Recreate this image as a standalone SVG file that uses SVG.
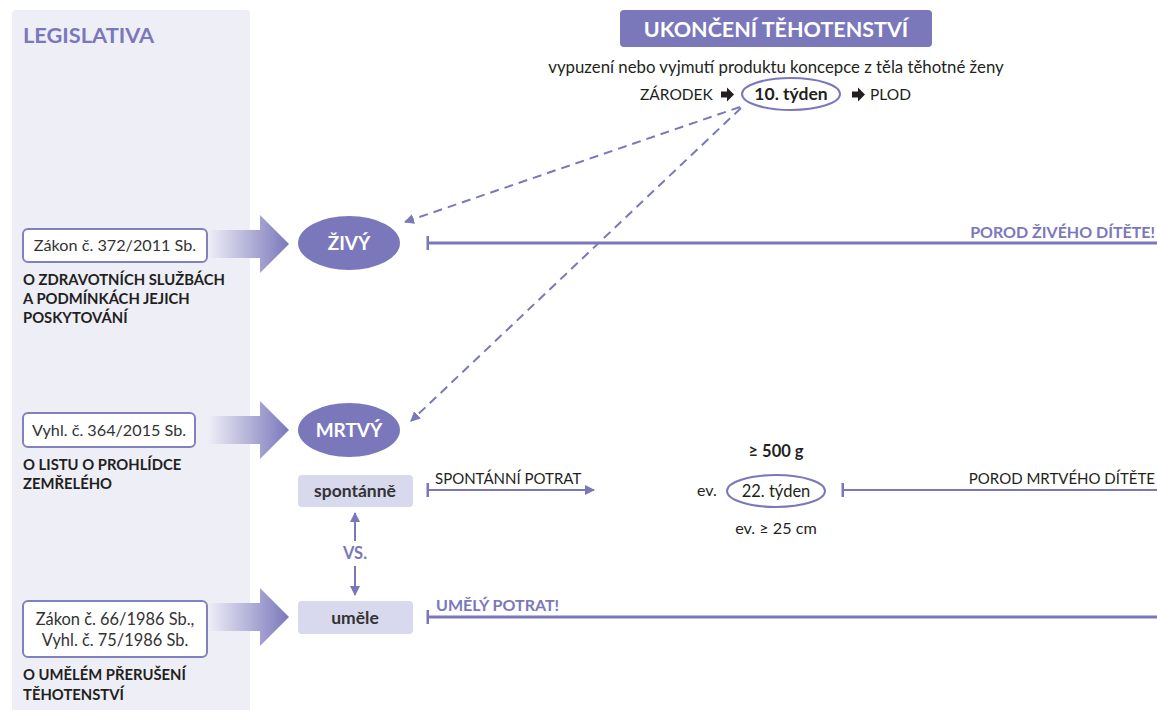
<svg xmlns="http://www.w3.org/2000/svg" width="1157" height="710" viewBox="0 0 1157 710">
<defs>
<style>
.t{font-family:Lato,"Open Sans","Liberation Sans",sans-serif;}
.b{font-weight:bold;}
.dk{fill:#231f20;}
.pu{fill:#7a78bb;}
.wh{fill:#ffffff;}
.law{fill:#ffffff;stroke:#8180c0;stroke-width:2;}
.node{fill:#7a78bb;}
.mode{fill:#d9d9ee;}
.ln{stroke:#7a78bb;stroke-width:3;fill:none;}
.thin{stroke:#7a78bb;stroke-width:2;fill:none;}
.dash{stroke:#7a78bb;stroke-width:2;fill:none;stroke-dasharray:9 6;}
</style>
<linearGradient id="g1" gradientUnits="objectBoundingBox" x1="0" y1="0" x2="1" y2="0">
<stop offset="0" stop-color="#eeeef7"/>
<stop offset="1" stop-color="#7a78bb"/>
</linearGradient>
<marker id="ah2" viewBox="0 0 10 10" refX="9" refY="5" markerWidth="10" markerHeight="10" orient="auto" markerUnits="userSpaceOnUse">
<path d="M0,0 L10,5 L0,10 Z" fill="#7a78bb"/>
</marker>
<marker id="tick" viewBox="0 0 4 14" refX="2" refY="7" markerWidth="4" markerHeight="14" orient="auto" markerUnits="userSpaceOnUse">
<rect x="0.5" y="0" width="2.5" height="14" fill="#7a78bb"/>
</marker>
</defs>
<rect width="1157" height="710" fill="#ffffff"/>

<g id="panel">
<path d="M12,710 V14 Q12,10 16,10 H246 Q250,10 250,14 V710 Z" fill="#eeeef7"/>
<text class="t b pu" x="23" y="43" font-size="21.8">LEGISLATIVA</text>
</g>

<g id="title">
<rect x="620" y="10" width="312" height="37" rx="4" fill="#7a78bb"/>
<text class="t b wh" x="776" y="36.5" font-size="21.5" text-anchor="middle">UKONČENÍ TĚHOTENSTVÍ</text>
<text class="t dk" x="776" y="73" font-size="16.8" text-anchor="middle">vypuzení nebo vyjmutí produktu koncepce z těla těhotné ženy</text>
</g>

<g id="week10">
<text class="t dk" x="640" y="100" font-size="15.5">ZÁRODEK</text>
<path d="M721,91.5 h6 v-4 l7,7 l-7,7 v-4 h-6 z" fill="#231f20"/>
<ellipse cx="791" cy="94" rx="49" ry="16" class="thin"/>
<text class="t b dk" x="791" y="100" font-size="17.5" text-anchor="middle">10. týden</text>
<path d="M852,91.5 h6 v-4 l7,7 l-7,7 v-4 h-6 z" fill="#231f20"/>
<text class="t dk" x="870" y="100" font-size="15.5">PLOD</text>
</g>

<g id="law1">
<rect x="23" y="229" width="184" height="33" rx="5" class="law"/>
<text class="t" x="115" y="251" font-size="16.2" fill="#333" text-anchor="middle">Zákon č. 372/2011 Sb.</text>
<path d="M208,230 H260 V215 L289,244 L260,273 V258 H208 Z" fill="url(#g1)"/>
<text class="t b dk" font-size="14.8"><tspan x="23" y="285">O ZDRAVOTNÍCH SLUŽBÁCH</tspan><tspan x="23" y="304">A PODMÍNKÁCH JEJICH</tspan><tspan x="23" y="323">POSKYTOVÁNÍ</tspan></text>
</g>

<g id="zivy">
<ellipse cx="349" cy="243" rx="51" ry="27" class="node"/>
<text class="t b wh" x="349" y="250" font-size="19" text-anchor="middle">ŽIVÝ</text>
</g>

<g id="law2">
<rect x="23" y="413" width="172" height="34" rx="5" class="law"/>
<text class="t" x="109" y="436" font-size="16.2" fill="#333" text-anchor="middle">Vyhl. č. 364/2015 Sb.</text>
<path d="M208,416 H260 V401 L289,430 L260,459 V444 H208 Z" fill="url(#g1)"/>
<text class="t b dk" font-size="14.8"><tspan x="23" y="470">O LISTU O PROHLÍDCE</tspan><tspan x="23" y="489">ZEMŘELÉHO</tspan></text>
</g>

<g id="mrtvy">
<ellipse cx="349" cy="430" rx="51" ry="27" class="node"/>
<text class="t b wh" x="349" y="437" font-size="19" text-anchor="middle">MRTVÝ</text>
</g>

<g id="spontanne">
<rect x="298" y="475" width="115" height="32" rx="4" class="mode"/>
<text class="t b" x="355" y="497" font-size="17.5" fill="#333" text-anchor="middle">spontánně</text>
</g>

<g id="umele">
<rect x="298" y="601" width="115" height="33" rx="4" class="mode"/>
<text class="t b" x="355" y="624" font-size="17.5" fill="#333" text-anchor="middle">uměle</text>
</g>

<g id="law3">
<rect x="23" y="601" width="184" height="56" rx="5" class="law"/>
<text class="t" font-size="16.4" fill="#333" text-anchor="middle"><tspan x="115" y="625">Zákon č. 66/1986 Sb.,</tspan><tspan x="115" y="646">Vyhl. č. 75/1986 Sb.</tspan></text>
<path d="M208,603 H260 V588 L289,617 L260,646 V631 H208 Z" fill="url(#g1)"/>
<text class="t b dk" font-size="14.8"><tspan x="23" y="680">O UMĚLÉM PŘERUŠENÍ</tspan><tspan x="23" y="700">TĚHOTENSTVÍ</tspan></text>
</g>

<g id="week22">
<text class="t b dk" x="776" y="457" font-size="16.5" text-anchor="middle">≥ 500 g</text>
<text class="t dk" x="697" y="496" font-size="16">ev.</text>
<ellipse cx="776" cy="491" rx="49" ry="16" class="thin"/>
<text class="t dk" x="776" y="497" font-size="16.5" text-anchor="middle">22. týden</text>
<text class="t dk" x="776" y="534" font-size="16.2" text-anchor="middle">ev. ≥ 25 cm</text>
</g>

<g id="connectors">
<line x1="740" y1="107" x2="405" y2="222" class="dash" marker-end="url(#ah2)"/>
<line x1="741" y1="108" x2="411" y2="421" class="dash" marker-end="url(#ah2)"/>
<line x1="428" y1="243" x2="1157" y2="243" class="ln" marker-start="url(#tick)"/>
<line x1="428" y1="490" x2="594" y2="490" class="thin" marker-start="url(#tick)" marker-end="url(#ah2)"/>
<line x1="843" y1="490" x2="1157" y2="490" class="thin" marker-start="url(#tick)"/>
<line x1="428" y1="617" x2="1157" y2="617" class="ln" marker-start="url(#tick)"/>
<line x1="355" y1="541" x2="355" y2="513" class="thin" marker-end="url(#ah2)"/>
<line x1="355" y1="566" x2="355" y2="595" class="thin" marker-end="url(#ah2)"/>
</g>

<g id="labels">
<text class="t b pu" x="1155" y="238" font-size="16" text-anchor="end">POROD ŽIVÉHO DÍTĚTE!</text>
<text class="t dk" x="435" y="484" font-size="15">SPONTÁNNÍ POTRAT</text>
<text class="t dk" x="1155" y="484" font-size="15" text-anchor="end">POROD MRTVÉHO DÍTĚTE</text>
<text class="t b pu" x="436" y="611" font-size="16">UMĚLÝ POTRAT!</text>
<text class="t b pu" x="355" y="559" font-size="16.5" text-anchor="middle">VS.</text>
</g>
</svg>
